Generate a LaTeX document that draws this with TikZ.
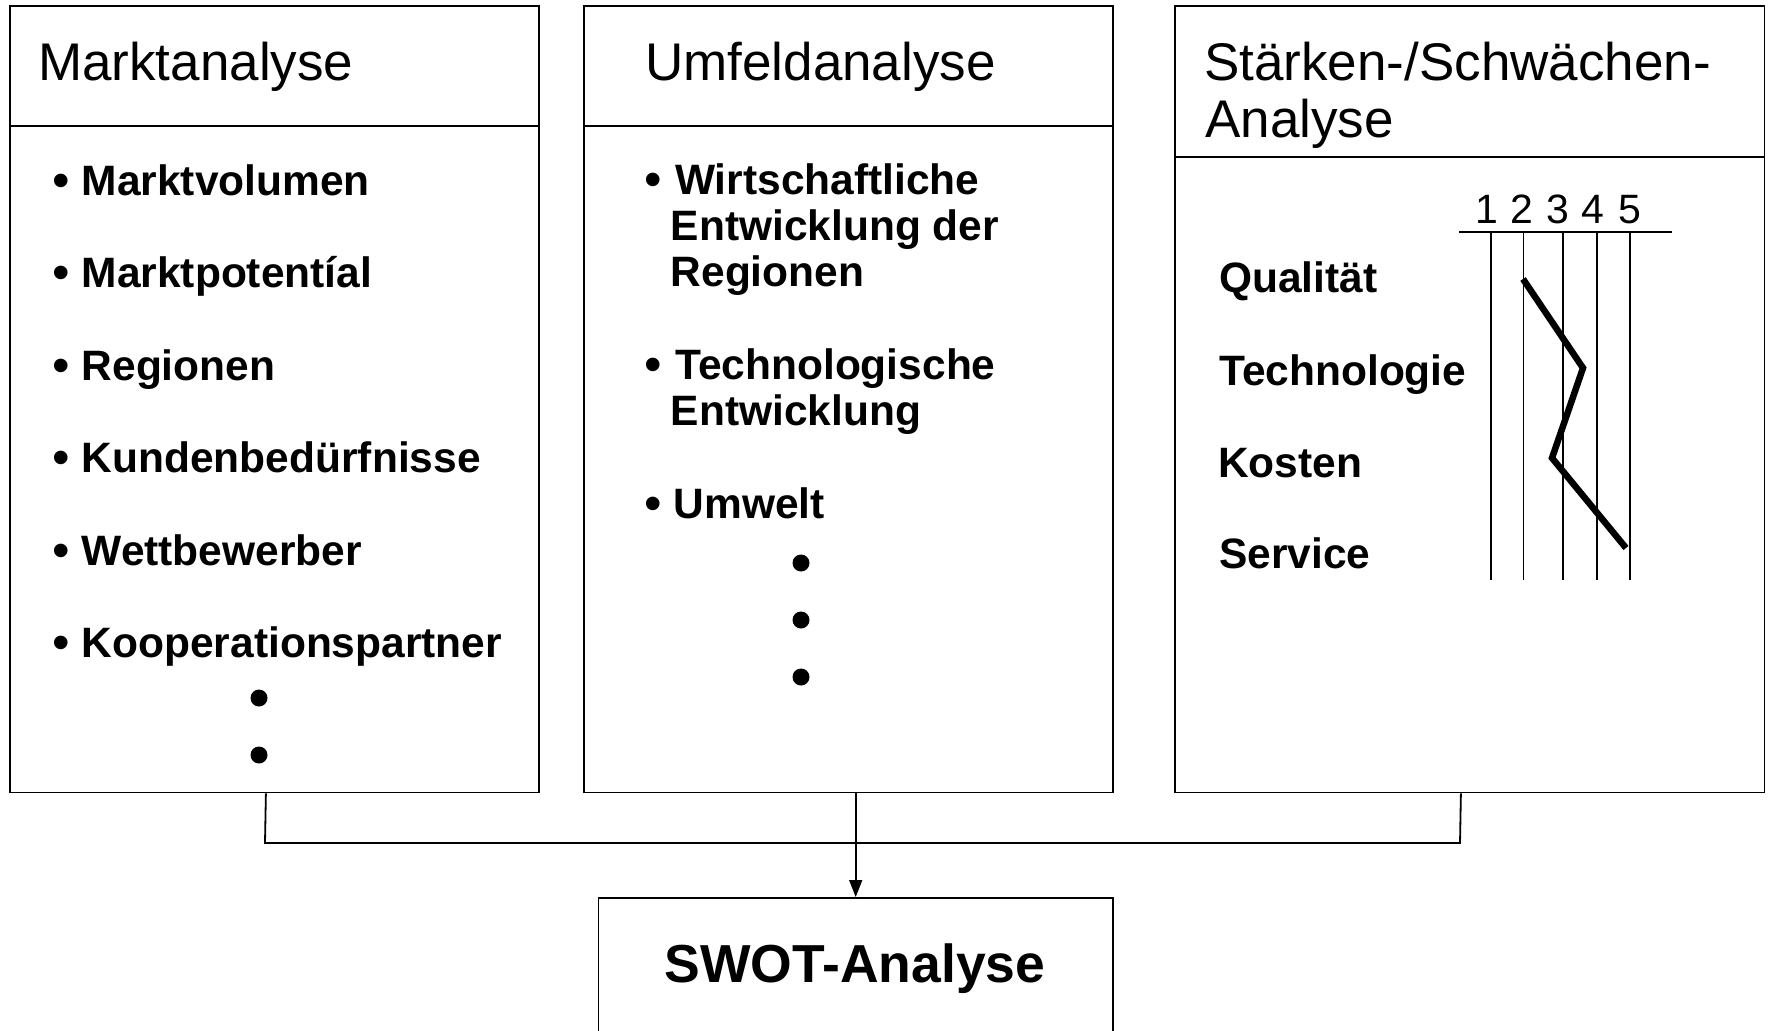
\documentclass[tikz,border=0pt]{standalone}
\usepackage{fontspec}
\setmainfont{Liberation Sans}
\usetikzlibrary{arrows.meta}
\begin{document}
\begin{tikzpicture}[x=1pt,y=-1pt,
  frame/.style={draw, line width=1.8pt, inner sep=0pt, anchor=north west},
  hdr/.style={line width=1.8pt},
  title/.style={anchor=base west, inner sep=0pt, font=\fontsize{53}{57}\selectfont},
  item/.style={anchor=base west, inner sep=0pt, font=\fontsize{42.5}{46}\selectfont\bfseries},
  bul/.style={anchor=base west, inner sep=0pt, yshift=-2pt, font=\fontsize{50}{46}\selectfont},
  bigdot/.style={circle, fill, inner sep=0pt, minimum size=17pt},
  digit/.style={anchor=base, inner sep=0pt, font=\fontsize{41}{46}\selectfont},
  swotlbl/.style={anchor=base, inner sep=0pt, font=\fontsize{53.5}{58}\selectfont\bfseries},
  link/.style={line width=1.8pt},
  grid/.style={line width=1.6pt},
  profile/.style={line width=6.5pt},
  arrowline/.style={line width=1.6pt, -{Triangle[length=17pt,width=13pt]}},
]
\path[use as bounding box] (0,0) rectangle (1768,1030);
\begin{scope}
\clip (0,0) rectangle (1768,1030);

% ---------- Box 1: Marktanalyse ----------
\node[frame, minimum width=529pt, minimum height=786pt] (m) at (9,5.5) {};
\draw[hdr] (9,126) -- (538,126);
\node[title] (mt) at (38,81) {Marktanalyse};
\foreach \i/\t/\y in {1/Marktvolumen/195, 2/Marktpotentíal/287.5, 3/Regionen/380,
                      4/Kundenbedürfnisse/472.5, 5/Wettbewerber/565, 6/Kooperationspartner/657.5}{
  \node[bul] (mb\i) at (52,\y) {•};
  \node[item] (mi\i) at (81.5,\y) {\t};
}
\node[bigdot] (md1) at (259,698) {};
\node[bigdot] (md2) at (259,755) {};

% ---------- Box 2: Umfeldanalyse ----------
\node[frame, minimum width=529pt, minimum height=786pt] (u) at (583,5.5) {};
\draw[hdr] (583,126) -- (1112,126);
\node[title] (ut) at (645,81) {Umfeldanalyse};
\node[bul] (ub1) at (644,194) {•};
\node[item] (ui1a) at (675,194) {Wirtschaftliche};
\node[item] (ui1b) at (670.5,240.3) {Entwicklung der};
\node[item] (ui1c) at (670.5,286.6) {Regionen};
\node[bul] (ub2) at (644,379) {•};
\node[item] (ui2a) at (675,379) {Technologische};
\node[item] (ui2b) at (670.5,425.5) {Entwicklung};
\node[bul] (ub3) at (644,518.5) {•};
\node[item] (ui3) at (673.5,518.5) {Umwelt};
\node[bigdot] (ud1) at (801,563) {};
\node[bigdot] (ud2) at (801,620) {};
\node[bigdot] (ud3) at (801,677) {};

% ---------- Box 3: Stärken-/Schwächen-Analyse ----------
\node[frame, minimum width=589.5pt, minimum height=786pt] (s) at (1174,5.5) {};
\draw[hdr] (1174,157) -- (1763.5,157);
\node[title] (st1) at (1204,81) {Stärken-/Schwächen-};
\node[title] (st2) at (1205,138) {Analyse};
\foreach \i/\x in {1/1487,2/1522,3/1558,4/1593,5/1630}{
  \node[digit] (d\i) at (\x,223) {\i};
}
\coordinate (hl) at (1459,232);
\coordinate (hr) at (1672,232);
\draw[grid] (hl) -- (hr);
\foreach \i/\x in {1/1491,2/1523.5,3/1563,4/1597,5/1630}{
  \coordinate (gt\i) at (\x,232);
  \coordinate (gb\i) at (\x,580);
  \draw[grid] (gt\i) -- (gb\i);
}
\node[item] (sq) at (1219,292.5) {Qualität};
\node[item] (stc) at (1219,385) {Technologie};
\node[item] (sk) at (1218,477) {Kosten};
\node[item] (ssv) at (1219,568.5) {Service};
\coordinate (p1) at (1523,279);
\coordinate (p2) at (1583,368);
\coordinate (p3) at (1552,458);
\coordinate (p4) at (1626,548);
\draw[profile] (p1) -- (p2) -- (p3) -- (p4);

% ---------- SWOT box ----------
\node[frame, minimum width=514.4pt, minimum height=200pt] (swot) at (597.6,897) {};
\node[swotlbl] (swott) at (855,982) {SWOT-Analyse};

% ---------- connectors ----------
\coordinate (jl) at (265,843);
\coordinate (jr) at (1460,843);
\draw[link] ([xshift=-8.5pt]m.south) -- (jl) -- (jr) -- ([xshift=-8.75pt]s.south);
\draw[arrowline] (u.south -| swot.north) -- (swot.north);
\end{scope}
\end{tikzpicture}
\end{document}
